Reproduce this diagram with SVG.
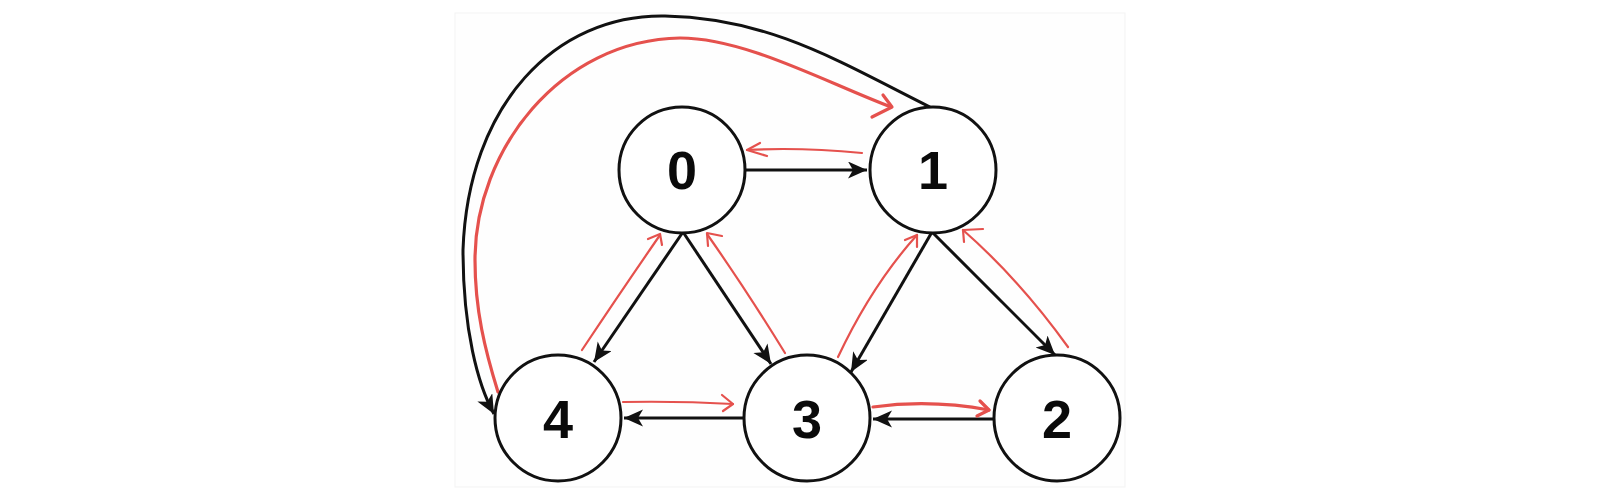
<svg xmlns="http://www.w3.org/2000/svg" width="1624" height="502" viewBox="0 0 1624 502">
<style>
.bg{fill:#fefefe;stroke:#f3f3f3;stroke-width:1}
.node circle{fill:#fff;stroke:#111;stroke-width:3}
.node text{font-family:"Liberation Sans",Arial,sans-serif;font-weight:bold;font-size:54px;fill:#0a0a0a;text-anchor:middle}
.edge{fill:none;stroke:#111;stroke-width:3;marker-end:url(#ah)}
.red{fill:none;stroke:#e5514d;stroke-width:2.2;stroke-linecap:round;stroke-linejoin:round}
.redb{stroke-width:3.2}
</style>
<defs>
<marker id="ah" markerUnits="userSpaceOnUse" markerWidth="22" markerHeight="20" refX="19" refY="8.5" orient="auto">
<path d="M0,0 L19,8.5 L0,17 L5,8.5 z" fill="#111"/>
</marker>
</defs>
<rect class="bg" x="455" y="13" width="670" height="474"/>
<g id="connectors">
<path class="edge" d="M745 170 L867 170"/>
<path class="edge" d="M744 418 L624 418"/>
<path class="edge" d="M994 419 L873 419"/>
<path class="edge" d="M683 232 L594 362"/>
<path class="edge" d="M683 232 L771 364"/>
<path class="edge" d="M932 232 L851 372"/>
<path class="edge" d="M932 232 L1055 355"/>
<path class="edge" d="M930 107 C840 62 770 18 665 16 C555 14 468 105 463 250 C463 330 478 385 494 414"/>
<g id="red-path">
<path class="red redb" d="M498 392 C485 350 475 310 475 260 C475 150 560 40 680 38 C745 38 825 82 891 107"/>
<path class="red redb" d="M883 95 L892 107 L872 117"/>
<path class="red" d="M862 153 Q800 147 747 150"/>
<path class="red" d="M760 143 L747 150 L767 156"/>
<path class="red" d="M582 350 Q622 290 660 235"/>
<path class="red" d="M648 239 L660 234 L662 245"/>
<path class="red" d="M785 353 Q745 288 707 234"/>
<path class="red" d="M722 236 L707 233 L708 246"/>
<path class="red" d="M838 357 Q872 285 917 235"/>
<path class="red" d="M905 240 L917 235 L917 247"/>
<path class="red" d="M1068 347 Q1020 280 963 230"/>
<path class="red" d="M983 229 L963 230 L964 242"/>
<path class="red" d="M623 402 Q680 401 733 404"/>
<path class="red" d="M722 395 L733 404 L723 411"/>
<path class="red redb" d="M873 407 Q930 399 989 410"/>
<path class="red redb" d="M980 401 L989 410 L977 416"/>
</g>
</g>
<g id="node0" class="node"><circle cx="682" cy="170" r="63"/><text x="682" y="189">0</text></g>
<g id="node1" class="node"><circle cx="933" cy="170" r="63"/><text x="933" y="189">1</text></g>
<g id="node4" class="node"><circle cx="558" cy="418" r="63"/><text x="558" y="438">4</text></g>
<g id="node3" class="node"><circle cx="807" cy="418" r="63"/><text x="807" y="438">3</text></g>
<g id="node2" class="node"><circle cx="1057" cy="418" r="63"/><text x="1057" y="438">2</text></g>
</svg>
